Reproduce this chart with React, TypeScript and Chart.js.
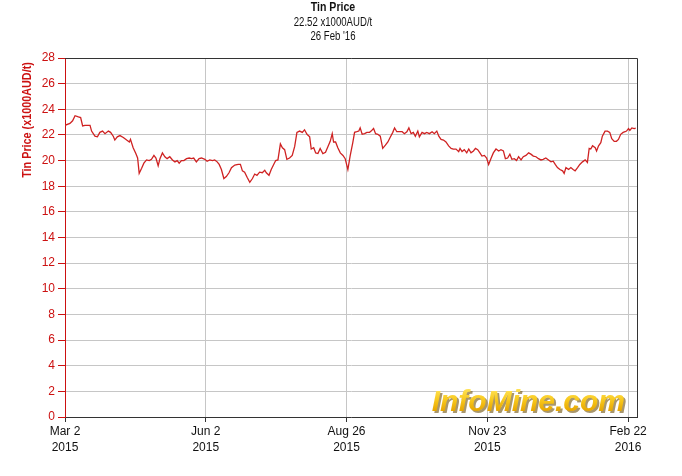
import React, { useEffect, useRef } from 'react';
import { Chart, registerables } from 'chart.js';

Chart.register(...registerables);

const FONT = '"Liberation Sans", Arial, sans-serif';

const titleLines = ['Tin Price', '22.52 x1000AUD/t', "26 Feb '16"];
const yAxisTitle = 'Tin Price (x1000AUD/t)';
const watermark = 'InfoMine.com';

const xTickDays = [0, 63, 126, 189, 252];
const xTickLabels = [
  ['Mar 2', '2015'],
  ['Jun 2', '2015'],
  ['Aug 26', '2015'],
  ['Nov 23', '2015'],
  ['Feb 22', '2016'],
];

// trading-day index since Mar 2 2015
const tradingDays = [
  0, 2.2, 3.4, 4.5, 6.0, 7.0, 7.9, 8.9, 10.0, 11.2, 11.9, 13.4, 14.5, 15.6, 16.8, 17.9, 19.4, 20.4, 21.6, 22.3,
  23.4, 24.6, 26.1, 27.6, 28.8, 29.3, 30.5, 31.7, 32.5, 33.2, 34.3, 35.3, 36.5, 37.7, 38.7, 39.8, 40.7, 41.7, 42.5, 43.6,
  44.7, 45.7, 46.9, 48.1, 49.2, 50.2, 51.1, 52.1, 53.2, 54.4, 55.6, 56.6, 57.6, 58.8, 60.0, 61.1, 62.6, 63.6, 64.8,
  66.0, 67.0, 68.1, 69.0, 70.0, 71.1, 72.2, 73.4, 74.5, 76.0, 77.5, 78.5, 79.4, 80.4, 81.5, 82.7, 83.9, 84.9, 85.9, 87.1,
  88.3, 89.4, 90.1, 91.3, 92.3, 93.4, 94.3, 95.3, 96.4, 97.3, 98.3, 99.3, 100.5, 101.7, 102.8, 103.8, 105.0, 106.2, 107.2, 108.3,
  109.5, 110.2, 111.3, 112.2, 113.2, 114.2, 115.4, 116.6, 117.7, 118.7, 119.6, 120.2, 121.1, 122.1, 123.2, 124.4, 125.4, 126.6,
  127.6, 128.8, 129.6, 130.6, 131.5, 132.1, 133.0, 134.1, 135.1, 136.3, 137.0, 138.1, 139.0, 140.0, 141.1, 142.2, 143.4, 144.5,
  145.5, 146.7, 147.5, 148.5, 149.7, 150.9, 151.9, 153.0, 153.9, 154.9, 155.9, 156.8, 157.9, 158.6, 159.8, 160.9, 161.9, 163.1,
  164.3, 165.3, 166.4, 167.3, 168.3, 169.4, 170.5, 171.7, 172.8, 173.8, 175.0, 176.2, 176.8, 177.7, 178.7, 179.8, 180.7, 181.7,
  182.8, 183.7, 184.7, 185.7, 186.6, 187.7, 188.7, 189.6,
  190.6, 191.7, 192.9, 194.1, 195.1, 196.2, 197.1, 198.1, 199.1, 200.0, 201.1, 202.1, 203.0, 204.1, 205.1, 206.3, 207.5, 208.5,
  209.6, 210.8, 211.9, 213.0, 214.0, 215.2, 216.4, 217.5, 218.5, 219.4, 220.4, 221.5, 222.7, 223.4, 224.2, 225.4, 226.4, 227.4,
  228.3, 229.4, 230.4, 231.6, 232.8, 233.8, 234.6, 235.3, 236.1, 237.3, 237.9, 238.8, 239.8, 240.5, 241.7, 242.8, 243.8, 244.7,
  245.8, 246.8, 247.7, 248.7, 249.8, 250.7, 251.3, 252.2, 252.8, 253.7, 254.7, 255.4,
];

// price, x1000 AUD/t
const prices = [
  22.75, 22.9, 23.1, 23.5, 23.4, 23.35, 22.7, 22.75, 22.75, 22.75, 22.3, 21.9, 21.85, 22.2, 22.3, 22.1, 22.3, 22.2, 21.9, 21.6,
  21.85, 21.95, 21.8, 21.6, 21.45, 21.65, 21.0, 20.55, 20.2, 19.0, 19.4, 19.8, 20.05, 20.0, 20.1, 20.4, 20.2, 19.6, 20.15, 20.6,
  20.3, 20.15, 20.3, 20.05, 19.9, 20.0, 19.8, 20.0, 20.0, 20.15, 20.2, 20.15, 20.2, 19.9, 20.15, 20.2, 20.1, 19.95, 20.05,
  20.0, 20.05, 19.9, 19.7, 19.3, 18.6, 18.75, 19.05, 19.45, 19.65, 19.7, 19.7, 19.2, 19.1, 18.7, 18.3, 18.6, 18.95, 18.85, 19.1,
  19.05, 19.25, 19.05, 18.85, 19.3, 19.7, 20.0, 20.05, 21.3, 21.0, 20.85, 20.1, 20.2, 20.4, 21.1, 22.2, 22.3, 22.2, 22.4, 22.05,
  21.85, 20.9, 21.0, 20.6, 20.55, 20.95, 20.55, 20.65, 21.1, 21.5, 22.1, 21.45, 21.45, 21.0, 20.6, 20.4, 20.15, 19.3,
  20.35, 21.4, 22.2, 22.25, 22.3, 22.55, 22.05, 22.1, 22.2, 22.2, 22.3, 22.5, 22.1, 22.05, 21.9, 20.95, 21.2, 21.45,
  21.8, 22.2, 22.55, 22.25, 22.25, 22.25, 22.1, 22.25, 22.55, 22.1, 22.2, 21.9, 22.3, 21.85, 22.2, 22.1, 22.2, 22.1,
  22.25, 22.1, 22.3, 21.9, 21.65, 21.6, 21.45, 21.15, 20.95, 20.9, 20.9, 20.7, 20.95, 20.7, 20.85, 20.6, 20.9, 20.6,
  20.75, 20.95, 20.85, 20.6, 20.35, 20.4, 20.2, 19.7,
  20.15, 20.6, 20.9, 20.75, 20.85, 20.75, 20.15, 20.2, 20.5, 20.1, 20.15, 20.0, 20.3, 20.05, 20.3, 20.4, 20.6, 20.5,
  20.35, 20.3, 20.15, 20.05, 20.1, 20.2, 20.05, 19.9, 19.95, 19.7, 19.45, 19.3, 19.2, 19.0, 19.45, 19.3, 19.45, 19.3,
  19.2, 19.45, 19.7, 19.9, 20.05, 19.85, 20.95, 20.9, 21.15, 21.0, 20.75, 21.15, 21.4, 21.9, 22.3, 22.3, 22.2, 21.7,
  21.5, 21.5, 21.65, 22.05, 22.2, 22.25, 22.3, 22.5, 22.35, 22.55, 22.5, 22.52,
];

const Y_MIN = 0;
const Y_MAX = 28;
const Y_STEP = 2;
const X_MAX = 256;

function narrowText(ctx: any, text: string, x: number, y: number, sx: number) {
  ctx.save();
  ctx.translate(x, y);
  ctx.scale(sx, 1);
  ctx.fillText(text, 0, 0);
  ctx.restore();
}

const decorPlugin = {
  id: 'decor',
  beforeDatasetsDraw(chart: any) {
    const ctx = chart.ctx;
    const a = chart.chartArea;
    ctx.save();
    ctx.font = `bold italic 30px "Liberation Sans", Arial, sans-serif`;
    ctx.textAlign = 'right';
    ctx.textBaseline = 'alphabetic';
    const tx = a.right - 12;
    const ty = a.bottom - 6;
    ctx.fillStyle = 'rgba(110,80,10,0.6)';
    ctx.fillText(watermark, tx + 2, ty + 2);
    const g = ctx.createLinearGradient(0, ty - 22, 0, ty);
    g.addColorStop(0, '#ffe256');
    g.addColorStop(0.5, '#f8c81c');
    g.addColorStop(1, '#e6a500');
    ctx.fillStyle = g;
    ctx.fillText(watermark, tx, ty);
    ctx.restore();
  },
  afterDraw(chart: any) {
    const ctx = chart.ctx;
    const a = chart.chartArea;
    ctx.save();
    ctx.strokeStyle = '#333';
    ctx.lineWidth = 1;
    ctx.beginPath();
    ctx.moveTo(a.left, a.top + 0.5);
    ctx.lineTo(a.right + 0.5, a.top + 0.5);
    ctx.lineTo(a.right + 0.5, a.bottom);
    ctx.stroke();
    ctx.fillStyle = '#111';
    ctx.textAlign = 'center';
    ctx.textBaseline = 'middle';
    const cx = 333;
    ctx.font = `bold 12px ${FONT}`;
    narrowText(ctx, titleLines[0], cx, 8, 0.88);
    ctx.font = `12px ${FONT}`;
    narrowText(ctx, titleLines[1], cx, 23, 0.8);
    narrowText(ctx, titleLines[2], cx, 37, 0.8);
    ctx.translate(28, 120);
    ctx.rotate(-Math.PI / 2);
    ctx.fillStyle = '#cc1111';
    ctx.font = `bold 12px ${FONT}`;
    narrowText(ctx, yAxisTitle, 0, 0, 0.9);
    ctx.restore();
  },
};

export default function App() {
  const ref = useRef<HTMLCanvasElement | null>(null);
  useEffect(() => {
    document.body.style.margin = '0';
    const canvas = ref.current;
    if (!canvas) return;
    const points = tradingDays.map((d, i) => ({ x: d, y: prices[i] }));
    const chart = new Chart(canvas, {
      type: 'line',
      data: {
        datasets: [
          {
            data: points,
            borderColor: '#cf2222',
            borderWidth: 1.3,
            pointRadius: 0,
            tension: 0,
            fill: false,
          },
        ],
      },
      options: {
        responsive: false,
        animation: false,
        devicePixelRatio: 1,
        layout: { padding: { top: 58, right: 45, left: 0, bottom: 0 } },
        plugins: { legend: { display: false }, tooltip: { enabled: false }, title: { display: false } },
        scales: {
          x: {
            type: 'linear',
            min: 0,
            max: X_MAX,
            afterBuildTicks: (axis: any) => {
              axis.ticks = xTickDays.map((v) => ({ value: v }));
            },
            afterFit: (s: any) => {
              s.height = 59;
            },
            ticks: {
              autoSkip: false,
              maxRotation: 0,
              color: '#111',
              padding: 2,
              font: { family: FONT, size: 12, lineHeight: 1.3 },
              callback: (v: any) => {
                const i = xTickDays.indexOf(Number(v));
                return i >= 0 ? xTickLabels[i] : '';
              },
            },
            grid: { color: '#c6c6c6', tickColor: '#333', tickLength: 5, lineWidth: 1 },
            border: { color: '#333', width: 1 },
          },
          y: {
            min: Y_MIN,
            max: Y_MAX,
            afterFit: (s: any) => {
              s.width = 65;
            },
            ticks: {
              stepSize: Y_STEP,
              color: '#cc1111',
              padding: 3,
              font: { family: FONT, size: 12 },
            },
            grid: { color: '#c6c6c6', tickColor: '#cc1111', tickLength: 7, lineWidth: 1 },
            border: { color: '#cc1111', width: 1 },
          },
        },
      },
      plugins: [decorPlugin],
    });
    return () => chart.destroy();
  }, []);
  return (
    <div style={{ width: 682, height: 476 }}>
      <canvas ref={ref} width={682} height={476} style={{ display: 'block' }} />
    </div>
  );
}
